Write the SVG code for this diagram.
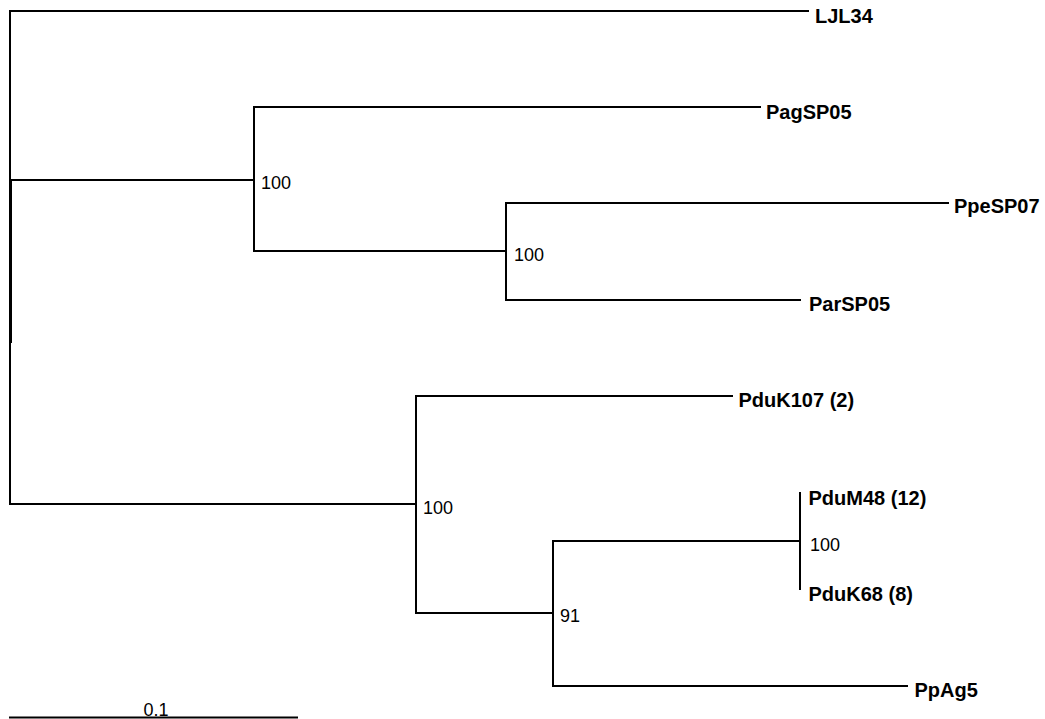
<svg xmlns="http://www.w3.org/2000/svg" width="1045" height="719" viewBox="0 0 1045 719">
<style>
.br{stroke:#000;stroke-width:2;fill:none;stroke-linecap:square}
.tx{font-family:"Liberation Sans",Arial,sans-serif;font-weight:bold;font-size:20px;fill:#000}
.bs{font-family:"Liberation Sans",Arial,sans-serif;font-size:18px;fill:#000}
</style>
<rect width="1045" height="719" fill="#fff"/>
<g id="connectors">
<path class="br" d="M10,11 V504" stroke-width="1.5"/>
<path d="M10.5,179 V343" stroke="#000" stroke-width="3"/>
<path class="br" d="M10,11 H808"/>
<path class="br" d="M10,180 H254"/>
<path class="br" d="M254,107 V251"/>
<path class="br" d="M254,107 H760"/>
<path class="br" d="M254,251 H506"/>
<path class="br" d="M506,203 V300"/>
<path class="br" d="M506,203 H948"/>
<path class="br" d="M506,300 H800"/>
<path class="br" d="M10,504 H416"/>
<path class="br" d="M416,396 V613"/>
<path class="br" d="M416,396 H732"/>
<path class="br" d="M416,613 H553"/>
<path class="br" d="M553,541 V686"/>
<path class="br" d="M553,541 H800"/>
<path class="br" d="M800,493 V589"/>
<path class="br" d="M553,686 H907"/>
</g>
<g id="LJL34"><text class="tx" x="815" y="22.5">LJL34</text></g>
<g id="PagSP05"><text class="tx" x="766" y="119">PagSP05</text></g>
<g id="PpeSP07"><text class="tx" x="954" y="213">PpeSP07</text></g>
<g id="ParSP05"><text class="tx" x="809" y="310.5">ParSP05</text></g>
<g id="PduK107"><text class="tx" x="738.5" y="407">PduK107 (2)</text></g>
<g id="PduM48"><text class="tx" x="808.5" y="505">PduM48 (12)</text></g>
<g id="PduK68"><text class="tx" x="808.5" y="600.5">PduK68 (8)</text></g>
<g id="PpAg5"><text class="tx" x="914.5" y="697">PpAg5</text></g>
<g id="nodeA"><text class="bs" x="261" y="189">100</text></g>
<g id="nodeB"><text class="bs" x="514" y="260.5">100</text></g>
<g id="nodeC"><text class="bs" x="423" y="514">100</text></g>
<g id="nodeD"><text class="bs" x="560" y="622">91</text></g>
<g id="nodeE"><text class="bs" x="810" y="550.5">100</text></g>
<g id="scale">
<path class="br" d="M10,717.5 H297" stroke-linecap="butt"/>
<text class="bs" x="156" y="716" text-anchor="middle" font-size="17">0.1</text>
</g>
</svg>
